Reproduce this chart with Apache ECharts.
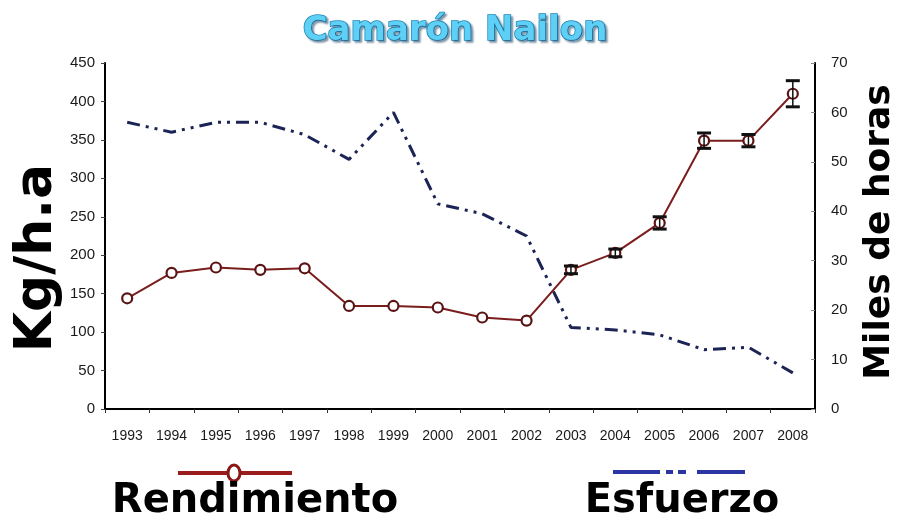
<!DOCTYPE html>
<html>
<head>
<meta charset="utf-8">
<script src="https://cdn.jsdelivr.net/npm/echarts@6/dist/echarts.min.js"></script>
<style>html,body{margin:0;padding:0;background:#fff}#c{width:897px;height:527px}</style>
</head>
<body>
<div id="c"></div>
<script>
var years = ['1993','1994','1995','1996','1997','1998','1999','2000','2001','2002','2003','2004','2005','2006','2007','2008'];
var rendimiento = [144, 177, 184, 181, 183, 134, 134, 132, 119, 115, 181, 203, 242, 349, 349, 410];
var rendError = [0, 0, 0, 0, 0, 0, 0, 0, 0, 0, 5, 5, 8, 10, 8, 17];
var esfuerzo = [58, 56, 58, 58, 55.5, 50.5, 60, 41.5, 39.5, 35, 16.5, 16, 15, 12, 12.5, 7.3];
var leftTicks = {min: 0, max: 450, interval: 50};
var rightTicks = {min: 0, max: 70, interval: 10};

var chart = echarts.init(document.getElementById('c'), null, {renderer: 'canvas'});
var narrow = "'Liberation Sans Narrow', 'Arial Narrow', 'Liberation Sans', sans-serif";
var errData = years.map(function (y, i) { return [i, rendimiento[i], rendError[i]]; });

chart.setOption({
  animation: false,
  backgroundColor: '#fff',
  title: {
    text: 'Camarón Nailon',
    left: 450, top: 9, textAlign: 'center',
    textStyle: {
      fontFamily: 'DejaVu Sans', fontWeight: 'bold', fontSize: 34,
      color: '#5fd0f5', textBorderColor: '#1d86b8', textBorderWidth: 1.5,
      textShadowColor: 'rgba(0,50,90,0.45)', textShadowBlur: 2, textShadowOffsetX: 2, textShadowOffsetY: 2
    }
  },
  grid: {left: 105, right: 82, top: 63, bottom: 118, containLabel: false},
  xAxis: {
    type: 'category', data: years, boundaryGap: true,
    axisLine: {lineStyle: {color: '#000', width: 2}},
    axisTick: {show: true, length: 4, lineStyle: {color: '#333'}},
    axisLabel: {interval: 0, margin: 20, fontFamily: narrow, fontSize: 14, color: '#1a1a1a'}
  },
  yAxis: [{
    type: 'value', min: leftTicks.min, max: leftTicks.max, interval: leftTicks.interval,
    position: 'left',
    axisLine: {show: true, lineStyle: {color: '#000', width: 2}},
    axisTick: {show: true, length: 4, lineStyle: {color: '#444'}},
    splitLine: {show: false},
    axisLabel: {margin: 10, fontFamily: narrow, fontSize: 15, color: '#1a1a1a'}
  }, {
    type: 'value', min: rightTicks.min, max: rightTicks.max, interval: rightTicks.interval,
    position: 'right',
    axisLine: {show: true, lineStyle: {color: '#000', width: 2}},
    axisTick: {show: true, inside: true, length: 4, lineStyle: {color: '#888'}},
    splitLine: {show: false},
    axisLabel: {margin: 16, fontFamily: narrow, fontSize: 15, color: '#1a1a1a'}
  }],
  series: [{
    name: 'Esfuerzo', type: 'line', yAxisIndex: 1, data: esfuerzo,
    symbol: 'none', smooth: false,
    lineStyle: {color: '#1c2456', width: 3, type: [13, 6, 3, 6, 3, 6]},
    z: 2
  }, {
    name: 'Rendimiento', type: 'line', yAxisIndex: 0, data: rendimiento,
    symbol: 'circle', symbolSize: 10,
    itemStyle: {color: '#fff', borderColor: '#5a1414', borderWidth: 2.2},
    lineStyle: {color: '#7a1d1d', width: 2},
    z: 4
  }, {
    name: 'err', type: 'custom', yAxisIndex: 0, data: errData, z: 5,
    renderItem: function (params, api) {
      var e = api.value(2);
      if (!e) return null;
      var x = api.coord([api.value(0), api.value(1)])[0];
      var top = api.coord([api.value(0), api.value(1) + e])[1];
      var bot = api.coord([api.value(0), api.value(1) - e])[1];
      var w = 7;
      var st = {stroke: '#111', lineWidth: 3};
      return {type: 'group', children: [
        {type: 'line', shape: {x1: x, y1: top, x2: x, y2: bot}, style: {stroke: '#111', lineWidth: 1.5}},
        {type: 'line', shape: {x1: x - w, y1: top, x2: x + w, y2: top}, style: st},
        {type: 'line', shape: {x1: x - w, y1: bot, x2: x + w, y2: bot}, style: st}
      ]};
    }
  }],
  graphic: [
    {type: 'text', x: 37, y: 258, rotation: Math.PI / 2,
     style: {text: 'Kg/h.a', font: 'bold 52px "DejaVu Sans"', fill: '#000', textAlign: 'center', textVerticalAlign: 'middle'}},
    {type: 'text', x: 880, y: 232, rotation: Math.PI / 2,
     style: {text: 'Miles de horas', font: 'bold 36px "DejaVu Sans"', fill: '#000', textAlign: 'center', textVerticalAlign: 'middle'}},
    {type: 'line', shape: {x1: 178, y1: 473, x2: 292, y2: 473}, style: {stroke: '#9a1c1c', lineWidth: 4}},
    {type: 'ellipse', shape: {cx: 234, cy: 473, rx: 6, ry: 8}, style: {fill: '#fff', stroke: '#8a1818', lineWidth: 3}},
    {type: 'text', x: 255, y: 522,
     style: {text: 'Rendimiento', font: 'bold 40px "DejaVu Sans"', fill: '#000', textAlign: 'center', textVerticalAlign: 'bottom'}},
    {type: 'line', shape: {x1: 613, y1: 472, x2: 745, y2: 472}, style: {stroke: '#2b35a3', lineWidth: 4, lineDash: [47, 6, 7, 5, 8, 11, 48]}},
    {type: 'text', x: 682, y: 522,
     style: {text: 'Esfuerzo', font: 'bold 40px "DejaVu Sans"', fill: '#000', textAlign: 'center', textVerticalAlign: 'bottom'}}
  ]
});
</script>
</body>
</html>
